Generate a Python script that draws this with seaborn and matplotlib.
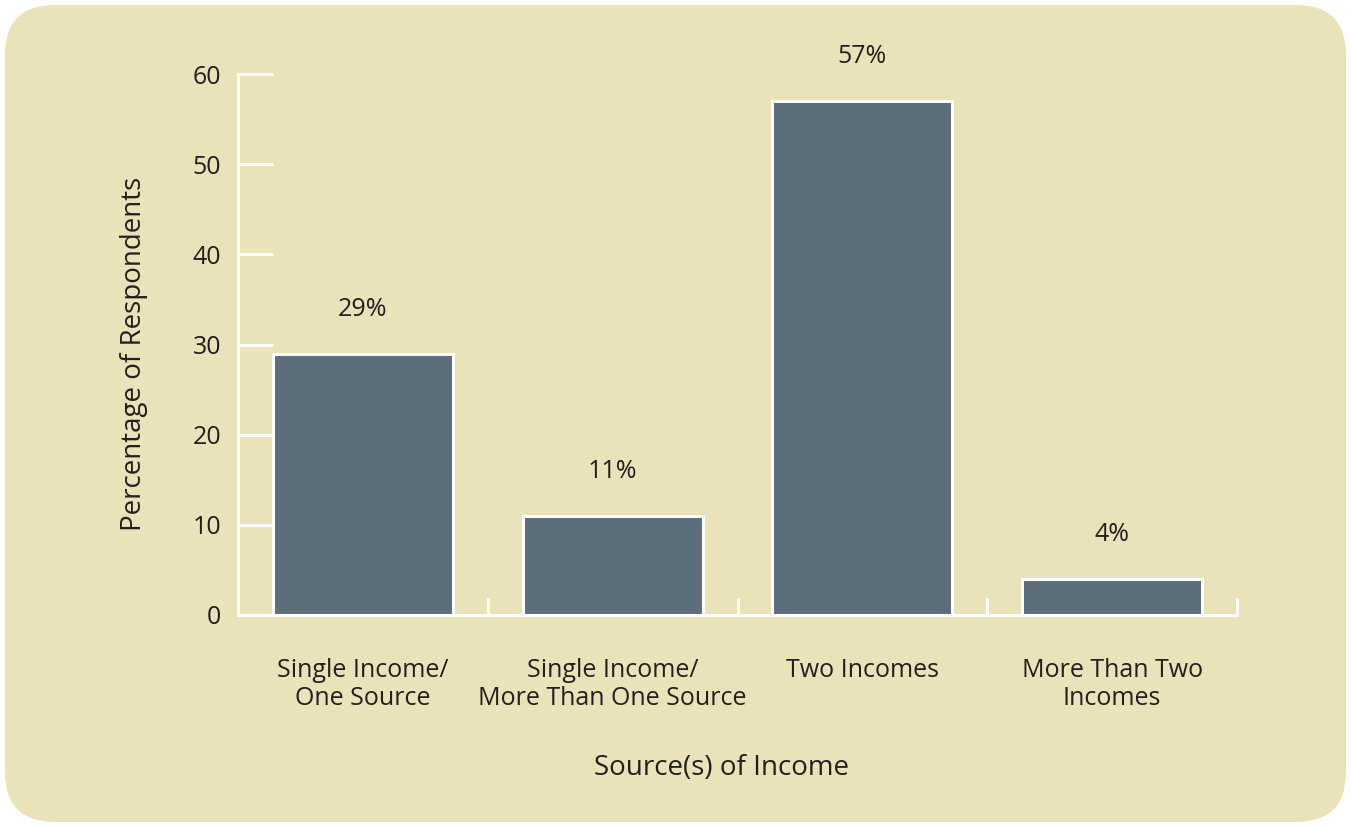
import numpy as np
import pandas as pd
import matplotlib.pyplot as plt
import seaborn as sns
from matplotlib.patches import FancyBboxPatch

categories = ["Single Income/\nOne Source", "Single Income/\nMore Than One Source",
              "Two Incomes", "More Than Two\nIncomes"]
values = [29, 11, 57, 4]
bar_labels = ["29%", "11%", "57%", "4%"]
y_ticks = [0, 10, 20, 30, 40, 50, 60]

bg = "#EAE3B9"
bar_color = "#5B6E7A"
text_color = "#231F20"

sns.set_style("white")
plt.rcParams['font.family'] = ['Open Sans', 'DejaVu Sans']

df = pd.DataFrame({"source": categories, "pct": values})

fig = plt.figure(figsize=(13.51, 8.27), dpi=100)
fig.patch.set_facecolor("white")
# rounded beige panel behind everything (inches)
panel = FancyBboxPatch((0.05, 0.05), 13.41, 8.17,
                       boxstyle="round,pad=0,rounding_size=0.5",
                       transform=fig.dpi_scale_trans, facecolor=bg,
                       edgecolor="none", zorder=-10)
fig.patches.append(panel)

ax = fig.add_axes([238 / 1351, 1 - 615 / 827, 999 / 1351, 541 / 827])
ax.set_facecolor("none")
ax.set_zorder(1)

sns.barplot(data=df, x="source", y="pct", color=bar_color, width=0.72,
            edgecolor="white", linewidth=2.2, saturation=1, ax=ax)

ax.set_xlim(-0.5, 3.5)
ax.set_ylim(0, 60)
ax.set_yticks(y_ticks)

for sp in ["top", "right"]:
    ax.spines[sp].set_visible(False)
for sp in ["left", "bottom"]:
    ax.spines[sp].set_color("white")
    ax.spines[sp].set_linewidth(2.2)

ax.tick_params(axis="y", direction="in", length=25, width=2.2, color="white",
               labelsize=18, labelcolor=text_color, pad=12, left=True)
ax.tick_params(axis="x", which="major", length=0, labelsize=18,
               labelcolor=text_color, pad=31)
ax.set_xticks([0.5, 1.5, 2.5, 3.5], minor=True)
ax.tick_params(axis="x", which="minor", direction="in", length=12, width=2.2,
               color="white", bottom=True)
for t in ax.get_xticklabels():
    t.set_linespacing(1.15)

for i, (v, lab) in enumerate(zip(values, bar_labels)):
    ax.text(i, v + 4.9, lab, ha="center", va="center", fontsize=18, color=text_color)

ax.set_xlabel("Source(s) of Income", fontsize=20, color=text_color)
ax.xaxis.set_label_coords(0.4835, -0.257)
ax.set_ylabel("Percentage of Respondents", fontsize=20, color=text_color, labelpad=32)
ax.yaxis.label.set_y(0.482)

plt.savefig("out.png", dpi=100)
